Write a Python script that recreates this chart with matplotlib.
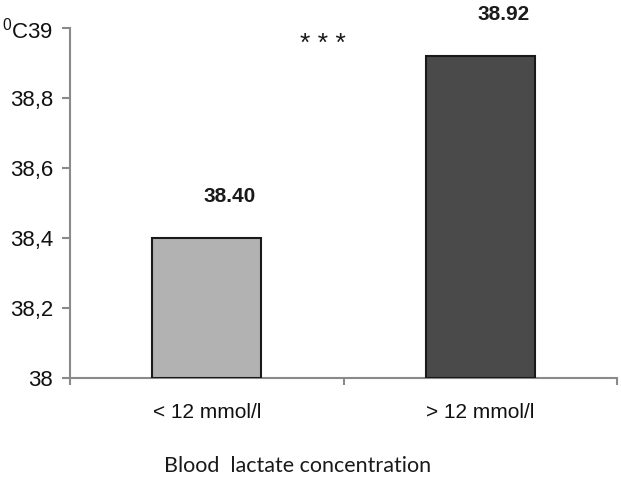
import matplotlib
matplotlib.use("Agg")
import matplotlib.pyplot as plt

categories = ["< 12 mmol/l", "> 12 mmol/l"]
values = [38.40, 38.92]
value_labels = ["38.40", "38.92"]
ytick_values = [38.0, 38.2, 38.4, 38.6, 38.8, 39.0]
ytick_labels = ["38", "38,2", "38,4", "38,6", "38,8", "$^{0}$C39"]
bar_colors = ["#b2b2b2", "#4a4a4a"]
significance = "* * *"
xlabel = "Blood  lactate concentration"

plt.rcParams["font.family"] = ["Liberation Sans", "DejaVu Sans"]
plt.rcParams["mathtext.fontset"] = "custom"
plt.rcParams["mathtext.rm"] = "Liberation Sans"
plt.rcParams["mathtext.it"] = "Liberation Sans:italic"
plt.rcParams["mathtext.bf"] = "Liberation Sans:bold"

W, H = 621, 483
fig = plt.figure(figsize=(W / 100, H / 100), dpi=100)
ax = fig.add_axes([70 / W, (H - 378) / H, (617 - 70) / W, 350 / H])

x = list(range(len(categories)))
ax.bar(x, [v - 38 for v in values], bottom=38, width=0.4, color=bar_colors,
       edgecolor="#1a1a1a", linewidth=1.5, zorder=3)
ax.set_xlim(-0.5, 1.5)
ax.set_ylim(38, 39)

ax.set_yticks(ytick_values)
ax.set_yticklabels(ytick_labels, fontsize=16, color="#111111")
ax.set_xticks([-0.5, 0.5, 1.5])
ax.set_xticklabels([])
ax.set_xticks(x, minor=True)
ax.set_xticklabels(categories, minor=True, fontsize=15, color="#111111")
ax.tick_params(axis="x", which="minor", length=0, pad=18)
ax.tick_params(axis="x", which="major", length=5, width=1.5, color="#8a8a8a", direction="out")
ax.tick_params(axis="y", length=6, width=1.5, color="#8a8a8a", pad=6)

for s in ["top", "right"]:
    ax.spines[s].set_visible(False)
for s in ["left", "bottom"]:
    ax.spines[s].set_color("#8a8a8a")
    ax.spines[s].set_linewidth(1.5)

for i, (v, lab) in enumerate(zip(values, value_labels)):
    ax.text(i + 0.085, v + 0.12, lab, ha="center", va="center",
            fontsize=15, fontweight="bold", color="#1a1a1a", clip_on=False)

ax.text(0.425, 38.955, significance, ha="center", va="center", fontsize=19,
        color="#1a1a1a", clip_on=False)

fig.text(298 / W, 1 - 466 / H, xlabel, ha="center", va="center",
         fontsize=15.5, family=["Lato", "DejaVu Sans"], color="#1a1a1a")

fig.savefig("out.png", dpi=100, facecolor="white")
